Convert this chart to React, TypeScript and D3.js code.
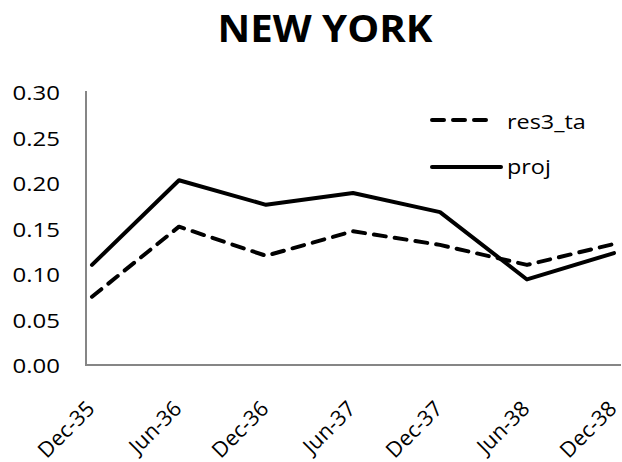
import React from "react";
import * as d3 from "d3";

const categories = ["Dec-35", "Jun-36", "Dec-36", "Jun-37", "Dec-37", "Jun-38", "Dec-38"];
const res3Values = [0.075, 0.152, 0.12, 0.147, 0.132, 0.11, 0.133];
const projValues = [0.11, 0.203, 0.176, 0.189, 0.168, 0.094, 0.123];
const yTicks = [0, 0.05, 0.1, 0.15, 0.2, 0.25, 0.3];
const seriesNames = ["res3_ta", "proj"];

const W = 622;
const H = 462;
const FONT = "'Open Sans', 'Liberation Sans', sans-serif";
const SX = 1.2;

export default function App() {
  const x = d3.scalePoint<string>().domain(categories).range([92, 614]);
  const y = d3.scaleLinear().domain([0, 0.3]).range([365, 92]);
  const line = d3
    .line<number>()
    .x((_, i) => x(categories[i]) as number)
    .y((d) => y(d));

  return (
    <svg
      width={W}
      height={H}
      style={{ position: "absolute", left: 0, top: 0, background: "#fff" }}
      fontFamily={FONT}
    >
      <rect width={W} height={H} fill="#fff" />
      <text
        x={325}
        y={42}
        textAnchor="middle"
        fontSize={37.5}
        fontWeight="bold"
        textLength={215}
        lengthAdjust="spacingAndGlyphs"
        fill="#000"
      >
        NEW YORK
      </text>

      {/* axes */}
      <line x1={86} x2={86} y1={91} y2={366} stroke="#868686" strokeWidth={2} />
      <line x1={85} x2={621} y1={365} y2={365} stroke="#868686" strokeWidth={2} />

      {yTicks.map((t) => (
        <g key={t} transform={`translate(60,${y(t)}) scale(${SX},1)`}>
          <text textAnchor="end" dominantBaseline="central" fontSize={20} fill="#000">
            {t.toFixed(2)}
          </text>
        </g>
      ))}

      {categories.map((c) => (
        <g key={c} transform={`translate(${(x(c) as number) + 4},410) rotate(-45)`}>
          <text textAnchor="end" fontSize={21.5} fill="#000">
            {c}
          </text>
        </g>
      ))}

      <path
        d={line(res3Values) || ""}
        fill="none"
        stroke="#000"
        strokeWidth={4}
        strokeDasharray="12,9"
        strokeLinecap="round"
        strokeLinejoin="round"
      />
      <path
        d={line(projValues) || ""}
        fill="none"
        stroke="#000"
        strokeWidth={4}
        strokeLinecap="round"
        strokeLinejoin="round"
      />

      {/* legend */}
      <line x1={432} x2={494} y1={120} y2={120} stroke="#000" strokeWidth={4} strokeDasharray="12,9" strokeLinecap="round" />
      <line x1={432} x2={501} y1={167} y2={167} stroke="#000" strokeWidth={4} strokeLinecap="round" />
      <g transform={`translate(507,121) scale(${SX},1)`}>
        <text dominantBaseline="central" fontSize={19.5} fill="#000">{seriesNames[0]}</text>
      </g>
      <g transform={`translate(507,166) scale(${SX},1)`}>
        <text dominantBaseline="central" fontSize={19.5} fill="#000">{seriesNames[1]}</text>
      </g>
    </svg>
  );
}
